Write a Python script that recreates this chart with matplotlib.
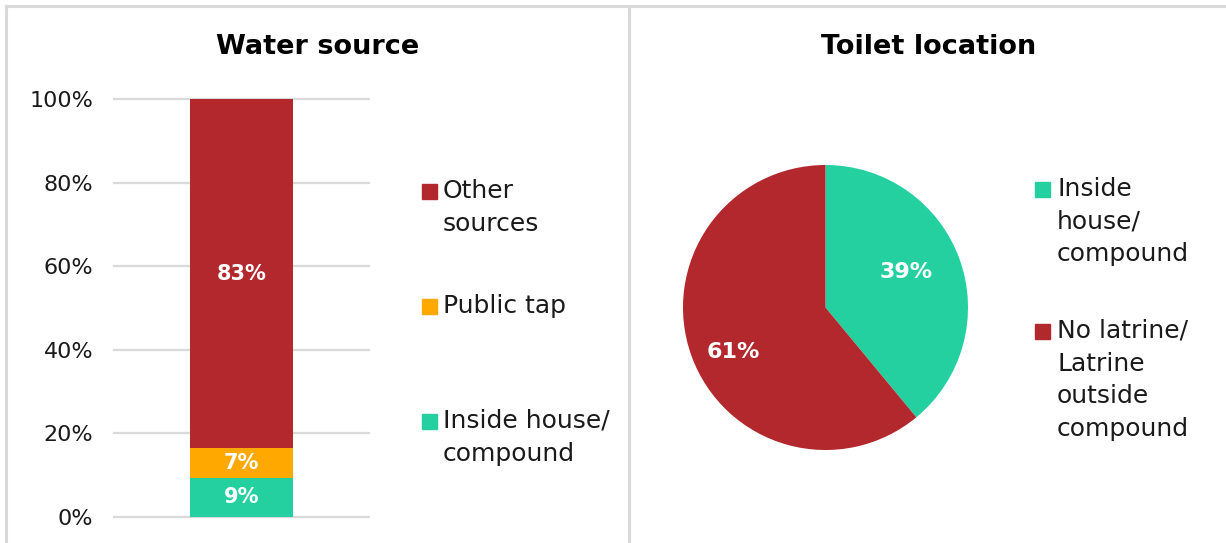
import matplotlib
matplotlib.use("Agg")
import numpy as np
import matplotlib.pyplot as plt
import matplotlib.ticker as mticker
from matplotlib.lines import Line2D
from matplotlib.patches import Rectangle

plt.rcParams["font.family"] = ["DejaVu Sans"]

# ── data ─────────────────────────────────────────────────────────────────────
water_labels = ["Inside house/\ncompound", "Public tap", "Other\nsources"]
water_values = [9.4, 7.1, 83.4]          # stacked bottom → top, in %
water_colors = ["#24D0A0", "#FFA800", "#B3282D"]

toilet_labels = ["Inside\nhouse/\ncompound", "No latrine/\nLatrine\noutside\ncompound"]
toilet_values = [39, 61]
toilet_colors = ["#24D0A0", "#B3282D"]

y_ticks = [0, 20, 40, 60, 80, 100]

GRID = "#D9D9D9"
TXT = "#1a1a1a"

W, H = 1226, 543
fig = plt.figure(figsize=(W / 100, H / 100), dpi=100)


def px(x, y):
    """pixel (from top-left) → figure fraction"""
    return x / W, 1 - y / H


# ── panel frame lines ────────────────────────────────────────────────────────
for (x0, y0), (x1, y1) in [((6, 6), (W, 6)), ((6, 6), (6, H)), ((629, 6), (629, H))]:
    a, b = px(x0, y0)
    c, d = px(x1, y1)
    fig.add_artist(Line2D([a, c], [b, d], color=GRID, lw=2.2, transform=fig.transFigure))

# ── left: stacked bar ────────────────────────────────────────────────────────
ax = fig.add_axes([114 / W, 26 / H, 255 / W, 418 / H])
bottom = 0.0
for lbl, v, c in zip(water_labels, water_values, water_colors):
    ax.bar(0, v, bottom=bottom, width=0.404, color=c, zorder=3)
    ax.text(0, bottom + v / 2, f"{v:.0f}%", ha="center", va="center",
            color="white", fontsize=15, fontweight="bold", zorder=4)
    bottom += v
ax.set_xlim(-0.5, 0.5)
ax.set_ylim(0, 100)
ax.set_yticks(y_ticks)
ax.yaxis.set_major_formatter(mticker.FuncFormatter(lambda v, _: f"{v:.0f}%"))
ax.set_xticks([])
ax.tick_params(axis="y", length=0, pad=15, labelsize=16, labelcolor=TXT)
for t in y_ticks:
    ax.axhline(t, color=GRID, lw=1.6, zorder=0, clip_on=False)
for s in ax.spines.values():
    s.set_visible(False)

fig.text(*px(318, 47), "Water source", ha="center", va="center",
         fontsize=19.5, fontweight="bold", color="black")

# legend, top entry first
for (lbl, c), y in zip(list(zip(water_labels, water_colors))[::-1], [192, 307, 422]):
    sx, sy = px(422, y + 7)
    fig.add_artist(Rectangle((sx, sy), 15 / W, 15 / H, color=c, transform=fig.transFigure))
    fig.text(*px(443, y - 13), lbl, ha="left", va="top", fontsize=18,
             color=TXT, linespacing=1.45)

# ── right: pie ───────────────────────────────────────────────────────────────
ax2 = fig.add_axes([683 / W, (H - 450) / H, 285 / W, 285 / H])
wedges, _, autotexts = ax2.pie(
    toilet_values, colors=toilet_colors, startangle=90, counterclock=False,
    autopct="%1.0f%%",
    textprops=dict(color="white", fontsize=16, fontweight="bold"),
)
# nudge the percentage labels along each wedge's bisector
for w, t, dist, shift in zip(wedges, autotexts, [0.62, 0.72], [4, 6]):
    ang = np.deg2rad((w.theta1 + w.theta2) / 2 + shift)
    t.set_position((dist * np.cos(ang), dist * np.sin(ang)))
ax2.set_xlim(-1, 1)
ax2.set_ylim(-1, 1)
ax2.set_aspect("equal")

fig.text(*px(929, 47), "Toilet location", ha="center", va="center",
         fontsize=19.5, fontweight="bold", color="black")

for (lbl, c), y in zip(zip(toilet_labels, toilet_colors), [190, 332]):
    sx, sy = px(1035, y + 7)
    fig.add_artist(Rectangle((sx, sy), 15 / W, 15 / H, color=c, transform=fig.transFigure))
    fig.text(*px(1057, y - 13), lbl, ha="left", va="top", fontsize=18,
             color=TXT, linespacing=1.45)

fig.savefig("out.png", dpi=100, facecolor="white")
